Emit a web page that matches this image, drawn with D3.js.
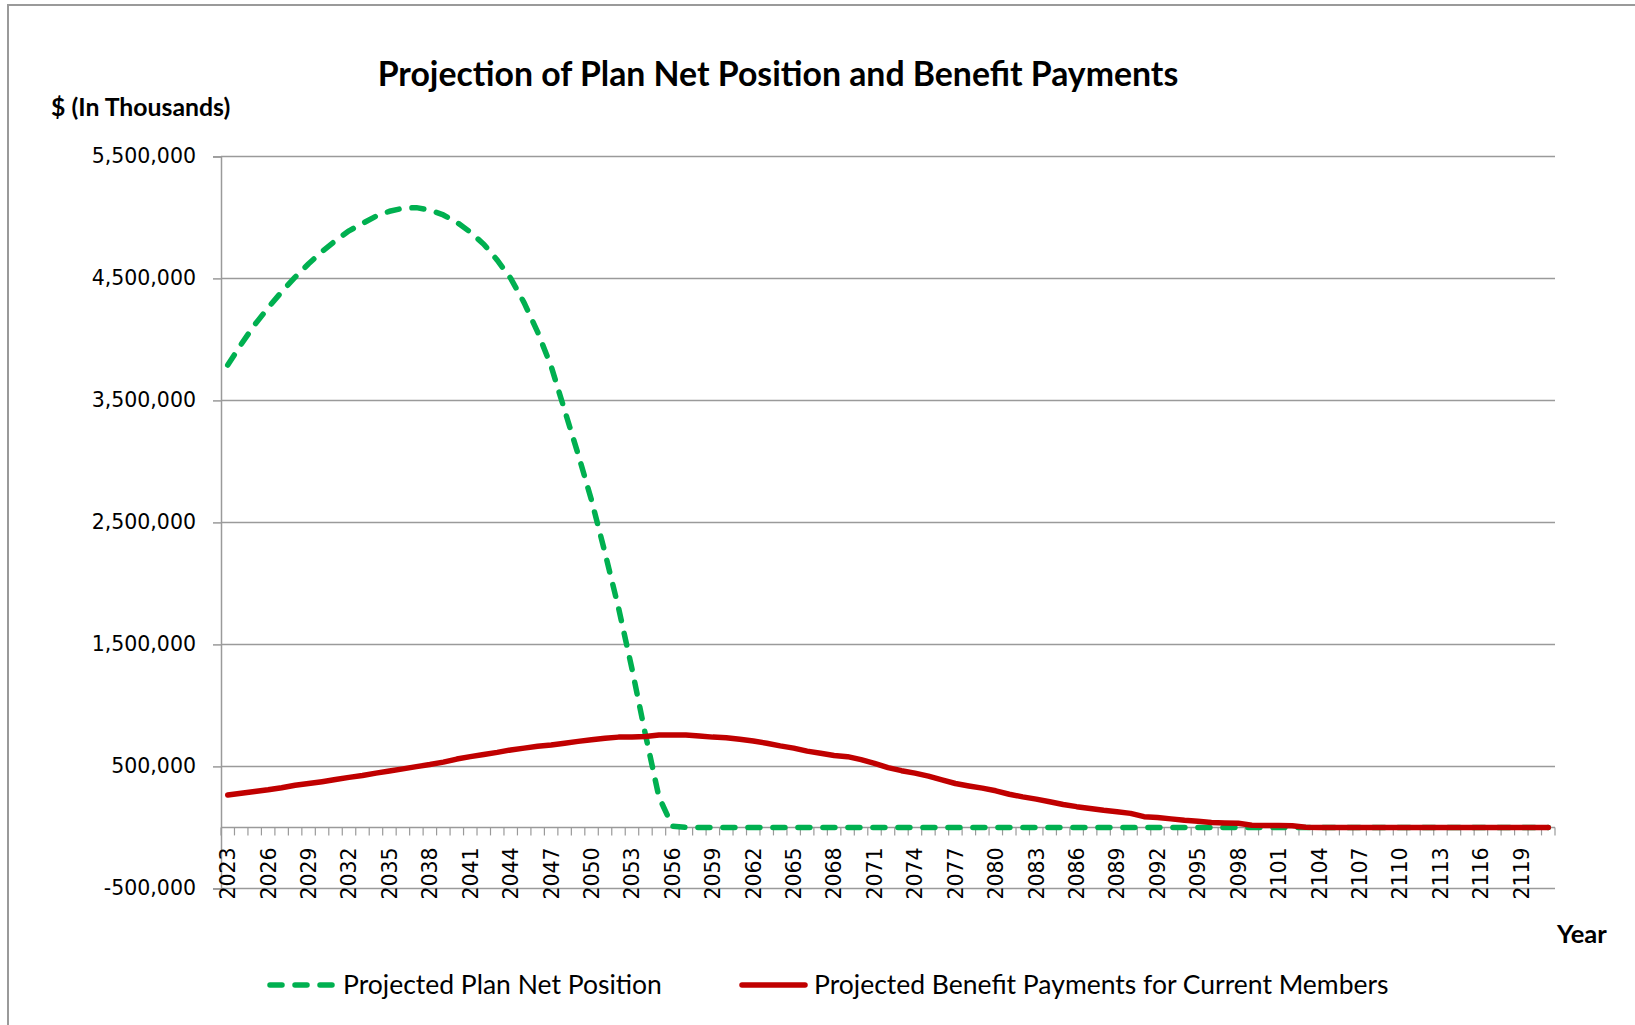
<!DOCTYPE html>
<html>
<head>
<meta charset="utf-8">
<script src="https://cdn.jsdelivr.net/npm/d3@7"></script>
<style>
    body { margin: 0; background: #fff; }
    .chart-title { font-family: Lato, sans-serif; font-weight: bold; font-size: 33.8px; }
    .unit-label { font-family: Lato, sans-serif; font-weight: bold; font-size: 24.8px; }
    .year-label { font-family: Lato, sans-serif; font-weight: bold; font-size: 25.5px; }
    .legend-text { font-family: Lato, sans-serif; font-size: 26.5px; }
    .tick-label { font-family: "DejaVu Sans", Verdana, sans-serif; font-size: 20.5px; fill: #000; }
</style>
</head>
<body>
<div class="chart-container"></div>
<script>
var width = 1635, height = 1025,
    margin = {top: 156.4, bottom: 136.6, left: 221, right: 80};

// categories (years) and tick values
var years = d3.range(2023, 2122);
var yTicks = [-500000, 500000, 1500000, 2500000, 3500000, 4500000, 5500000];

// $ thousands
var netPosition = [
    3790000, 3960000, 4120000, 4260000, 4390000, 4510000, 4620000, 4720000, 4810000, 4890000,
    4950000, 5010000, 5050000, 5075000, 5080000, 5060000, 5020000, 4960000, 4880000, 4780000,
    4650000, 4500000, 4300000, 4060000, 3780000, 3420000, 3060000, 2680000, 2250000, 1800000,
    1300000, 760000, 250000, 10000, 0, 0, 0, 0, 0, 0,
    0, 0, 0, 0, 0, 0, 0, 0, 0, 0,
    0, 0, 0, 0, 0, 0, 0, 0, 0, 0,
    0, 0, 0, 0, 0, 0, 0, 0, 0, 0,
    0, 0, 0, 0, 0, 0, 0, 0, 0, 0,
    0, 0, 0, 0, 0, 0, 0, 0, 0, 0,
    0, 0, 0, 0, 0, 0, 0, 0, 0
];
var benefitPayments = [
    265000, 280000, 295000, 308000, 325000, 345000, 360000, 375000, 392000, 410000,
    425000, 445000, 462000, 480000, 498000, 515000, 535000, 560000, 580000, 598000,
    615000, 635000, 650000, 665000, 676000, 690000, 705000, 718000, 730000, 740000,
    740000, 745000, 757000, 758000, 757000, 750000, 740000, 735000, 722000, 708000,
    690000, 668000, 650000, 625000, 608000, 590000, 580000, 555000, 525000, 490000,
    465000, 445000, 420000, 390000, 360000, 340000, 322000, 300000, 272000, 250000,
    232000, 210000, 188000, 170000, 155000, 140000, 128000, 115000, 88000, 82000,
    70000, 58000, 50000, 40000, 36000, 34000, 18000, 16000, 16000, 14000,
    2000, 0, 0, 0, 0, 0, 0, 0, 0, 0,
    0, 0, 0, 0, 0, 0, 0, 0, 0
];

var seriesNames = ['Projected Plan Net Position', 'Projected Benefit Payments for Current Members'];
var seriesColors = ['#00B050', '#C00000'];

var axesWidth = width - margin.left - margin.right,
    axesHeight = height - margin.top - margin.bottom;

var fmt = d3.formatLocale({decimal: '.', thousands: ',', grouping: [3], currency: ['$', ''], minus: '-'}).format(',');

const svg = d3.select('.chart-container')
    .append('svg')
    .attr('width', width)
    .attr('height', height);

// outer frame (only top and left edges show)
svg.append('rect')
    .attr('x', 8).attr('y', 5)
    .attr('width', width + 50).attr('height', height + 50)
    .attr('fill', 'none')
    .attr('stroke', '#9a9a9a')
    .attr('stroke-width', 2);

svg.append('text')
    .attr('class', 'chart-title')
    .attr('x', 778).attr('y', 86)
    .attr('text-anchor', 'middle')
    .text('Projection of Plan Net Position and Benefit Payments');

svg.append('text')
    .attr('class', 'unit-label')
    .attr('x', 51).attr('y', 116)
    .text('$ (In Thousands)');

svg.append('text')
    .attr('class', 'year-label')
    .attr('x', 1557).attr('y', 943)
    .text('Year');

const g = svg.append('g')
    .attr('transform', `translate(${margin.left},${margin.top})`);

const x = d3.scaleBand()
    .domain(years)
    .range([0, axesWidth])
    .padding(0);

const y = d3.scaleLinear()
    .domain([-500000, 5500000])
    .range([axesHeight, 0]);

// gridlines
g.selectAll('.grid')
    .data(yTicks)
    .join('line')
    .attr('class', 'grid')
    .attr('x1', 0).attr('x2', axesWidth)
    .attr('y1', d => y(d)).attr('y2', d => y(d))
    .attr('stroke', '#9a9a9a')
    .attr('stroke-width', 1.5);

// y axis
const yAxis = g.append('g')
    .call(d3.axisLeft(y).tickValues(yTicks).tickSize(8).tickPadding(17).tickFormat(fmt));
yAxis.select('.domain').attr('stroke', '#9a9a9a').attr('stroke-width', 1.5);
yAxis.selectAll('.tick line').attr('stroke', '#9a9a9a').attr('stroke-width', 1.5);
yAxis.selectAll('.tick text').attr('class', 'tick-label').attr('font-size', null).attr('font-family', null);

// x axis at zero
const xAxis = g.append('g')
    .attr('transform', `translate(0,${y(0)})`);
xAxis.append('line')
    .attr('x1', 0).attr('x2', axesWidth)
    .attr('stroke', '#9a9a9a')
    .attr('stroke-width', 1.5);
xAxis.selectAll('.xtick')
    .data(years.concat([null]))
    .join('line')
    .attr('class', 'xtick')
    .attr('x1', (d, i) => i * x.bandwidth())
    .attr('x2', (d, i) => i * x.bandwidth())
    .attr('y1', 0).attr('y2', 8)
    .attr('stroke', '#9a9a9a')
    .attr('stroke-width', 1.2);
xAxis.selectAll('.xlabel')
    .data(years.filter((d, i) => i % 3 == 0))
    .join('text')
    .attr('class', 'tick-label xlabel')
    .attr('transform', d => `translate(${x(d) + x.bandwidth() / 2},${20})rotate(-90)`)
    .attr('text-anchor', 'end')
    .attr('dy', '0.36em')
    .text(d => d);

// lines
var line = d3.line()
    .x((d, i) => x(years[i]) + x.bandwidth() / 2)
    .y(d => y(d));

g.append('path')
    .datum(netPosition)
    .attr('d', line)
    .attr('fill', 'none')
    .attr('stroke', seriesColors[0])
    .attr('stroke-width', 5.5)
    .attr('stroke-dasharray', '12,13')
    .attr('stroke-linecap', 'round')
    .attr('stroke-linejoin', 'round');

g.append('path')
    .datum(benefitPayments)
    .attr('d', line)
    .attr('fill', 'none')
    .attr('stroke', seriesColors[1])
    .attr('stroke-width', 5.5)
    .attr('stroke-linecap', 'round')
    .attr('stroke-linejoin', 'round');

// legend
var legendX = [270, 742], legendTextX = [343, 814];
seriesNames.forEach(function(name, i) {
    svg.append('line')
        .attr('x1', legendX[i]).attr('x2', legendX[i] + 63)
        .attr('y1', 985).attr('y2', 985)
        .attr('stroke', seriesColors[i])
        .attr('stroke-width', 5.5)
        .attr('stroke-linecap', 'round')
        .attr('stroke-dasharray', i == 0 ? '12,13' : null);
    svg.append('text')
        .attr('class', 'legend-text')
        .attr('x', legendTextX[i]).attr('y', 994)
        .text(name);
});
</script>
</body>
</html>
